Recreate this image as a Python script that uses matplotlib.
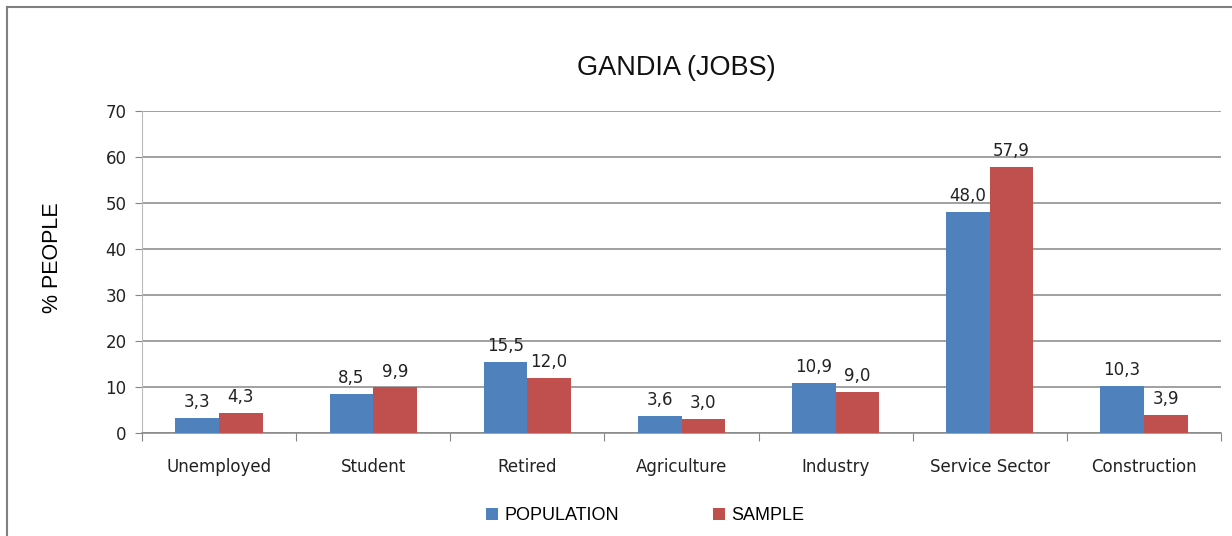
import matplotlib.pyplot as plt
import numpy as np

categories = ["Unemployed", "Student", "Retired", "Agriculture", "Industry",
              "Service Sector", "Construction"]
population = [3.3, 8.5, 15.5, 3.6, 10.9, 48.0, 10.3]
sample = [4.3, 9.9, 12.0, 3.0, 9.0, 57.9, 3.9]
yticks = [0, 10, 20, 30, 40, 50, 60, 70]

blue = "#4F81BD"
red = "#C0504D"
grid_col = "#868686"

fig = plt.figure(figsize=(12.32, 5.36), dpi=100)
ax = fig.add_axes([142 / 1232, 1 - 433 / 536, 1079 / 1232, 322 / 536])

x = np.arange(len(categories))
w = 0.283
b1 = ax.bar(x - w / 2, population, w, color=blue, label="POPULATION", zorder=3)
b2 = ax.bar(x + w / 2, sample, w, color=red, label="SAMPLE", zorder=3)

for bars, vals in ((b1, population), (b2, sample)):
    for r, v in zip(bars, vals):
        ax.annotate(f"{v:.1f}".replace(".", ","),
                    (r.get_x() + r.get_width() / 2, r.get_height()),
                    xytext=(0, 5), textcoords="offset points",
                    ha="center", va="bottom", fontsize=12, color="#222222")

ax.set_xlim(-0.5, len(categories) - 0.5)
ax.set_ylim(0, 70)
ax.set_yticks(yticks)
ax.tick_params(axis="y", length=5, color=grid_col, labelsize=12, pad=6,
               labelcolor="#222222")
ax.yaxis.grid(True, color=grid_col, linewidth=1.1, zorder=0)
ax.set_axisbelow(True)

# category boundary ticks, labels at centres
ax.set_xticks(np.arange(len(categories) + 1) - 0.5)
ax.set_xticklabels([])
ax.set_xticks(x, minor=True)
ax.set_xticklabels(categories, minor=True, fontsize=12, color="#222222")
ax.tick_params(axis="x", which="major", length=6, color=grid_col)
ax.tick_params(axis="x", which="minor", length=0, pad=18)

for s in ("top", "right"):
    ax.spines[s].set_visible(False)
ax.spines["left"].set_color("#BBBBBB")
ax.spines["bottom"].set_color(grid_col)
ax.spines["bottom"].set_linewidth(1.1)

ax.set_ylabel("% PEOPLE", fontsize=15.5, family="Liberation Sans")
ax.yaxis.set_label_coords(-0.073, 0.543)
fig.text(676 / 1232, 1 - 68 / 536, "GANDIA (JOBS)", ha="center", va="center",
         fontsize=19.5, family="Liberation Sans", color="#111111")

fig.legend(handles=[b1, b2], loc="center", bbox_to_anchor=(645 / 1232, 1 - 516 / 536),
           ncol=2, frameon=False, handlelength=0.67, handleheight=0.67,
           columnspacing=5.2, handletextpad=0.35,
           prop={"family": "Liberation Sans", "size": 13})

# outer chart border (right/bottom edges fall outside the image)
fig.add_artist(plt.Line2D([7 / 1232, 7 / 1232], [0, 1 - 7 / 536],
                          transform=fig.transFigure, color="#808080", linewidth=1.5))
fig.add_artist(plt.Line2D([7 / 1232, 1], [1 - 7 / 536, 1 - 7 / 536],
                          transform=fig.transFigure, color="#808080", linewidth=1.5))

fig.savefig("out.png", dpi=100)
